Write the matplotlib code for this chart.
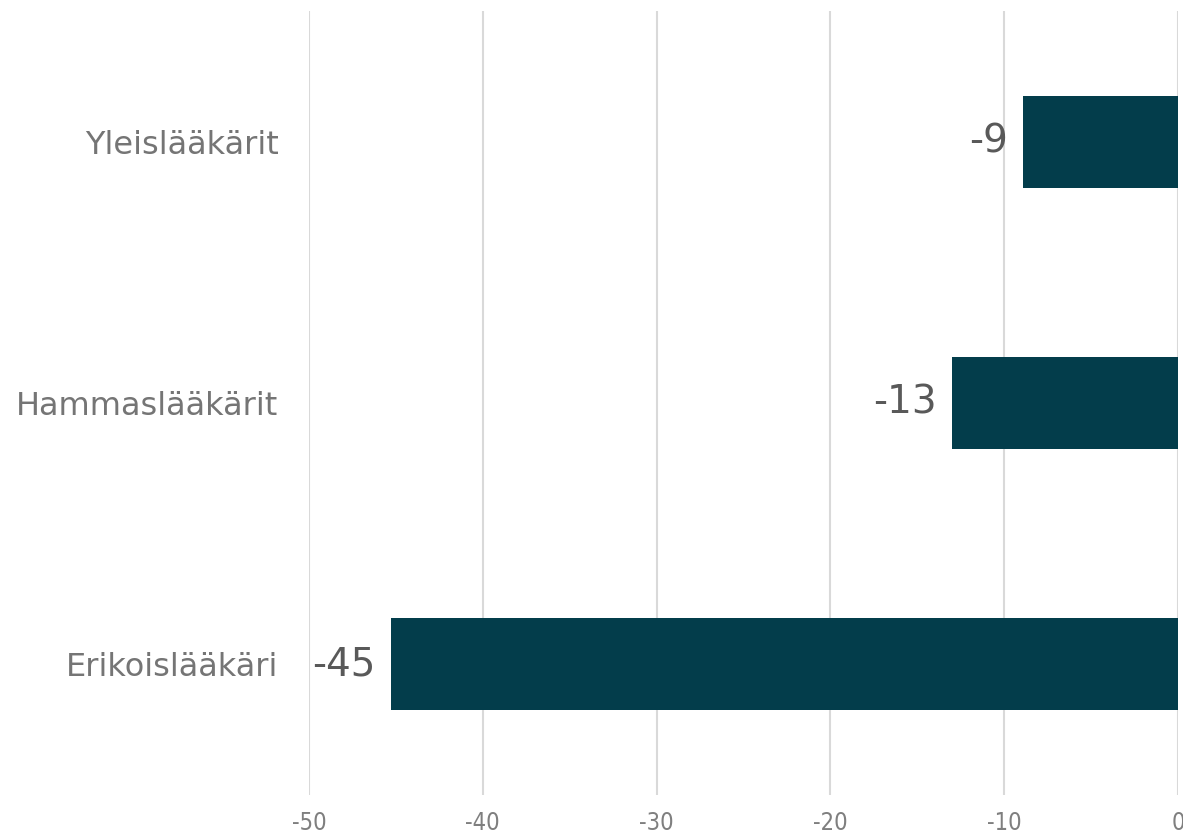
import matplotlib
matplotlib.use("Agg")
import matplotlib.pyplot as plt

# data
categories = ["Yleislääkärit", "Hammaslääkärit", "Erikoislääkäri"]
values = [-8.9, -13.0, -45.3]
xticks = [-50, -40, -30, -20, -10, 0]

bar_color = "#033d4b"
grid_color = "#d9d9d9"

fig = plt.figure(figsize=(11.83, 8.38), dpi=100)
ax = fig.add_axes([0.2612, 0.0519, 0.7346, 0.9344])

pos = list(range(len(categories)))
bars = ax.barh(pos, values, height=0.35, color=bar_color, zorder=3)
ax.bar_label(bars, labels=["%.0f" % v for v in values], padding=11,
             fontsize=28, color="#595959")

ax.set_xlim(-50, 0)
ax.set_ylim(len(categories) - 0.5, -0.5)
ax.set_yticks(pos)
ax.set_yticklabels(categories, fontsize=23, color="#757575")
ax.set_xticks(xticks)
ax.set_xticklabels([str(t) for t in xticks], fontsize=17, color="#7f7f7f",
                   family=["Liberation Sans Narrow", "DejaVu Sans"],
                   stretch="condensed")
ax.tick_params(axis="y", length=0, pad=22)
ax.tick_params(axis="x", length=0, pad=12)

ax.grid(axis="x", color=grid_color, linewidth=1.5, zorder=0)
for s in ax.spines.values():
    s.set_visible(False)

fig.savefig("out.png", dpi=100)
